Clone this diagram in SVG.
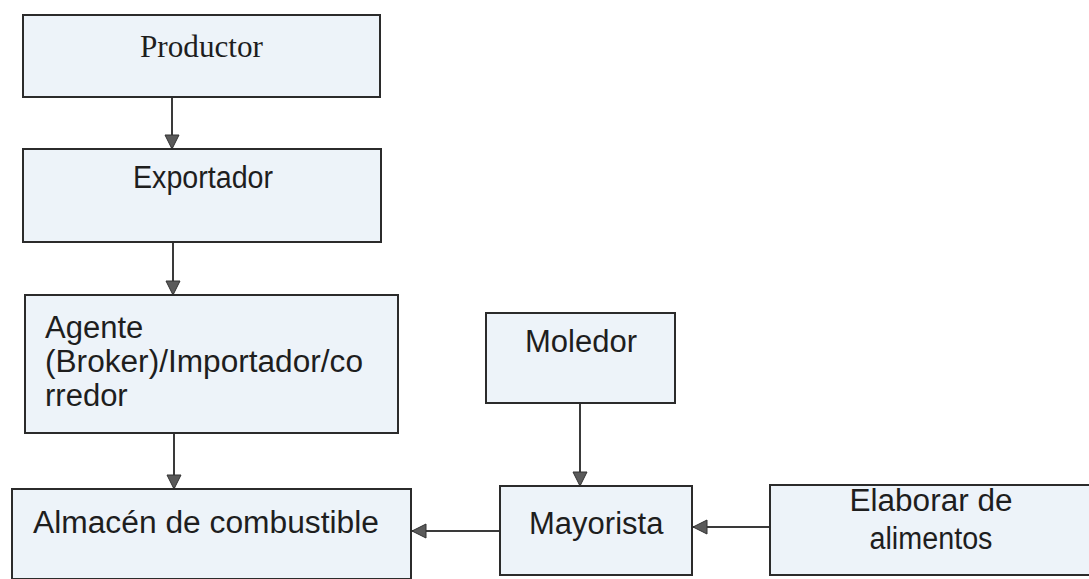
<svg xmlns="http://www.w3.org/2000/svg" width="1089" height="579" viewBox="0 0 1089 579">
  <style>
    .box { fill: #edf3f9; stroke: #2b2b2b; stroke-width: 2; }
    .sans { font-family: "Liberation Sans", Arial, sans-serif; font-size: 31px; fill: #1e1e1e; }
    .serif { font-family: "Liberation Serif", "Times New Roman", serif; font-size: 31px; fill: #1e1e1e; }
    .link { fill: none; stroke: #3a3a3a; stroke-width: 2; }
  </style>
  <defs>
    <marker id="arrow" markerUnits="userSpaceOnUse" markerWidth="18" markerHeight="18" refX="15" refY="8" orient="auto">
      <path d="M1,1 L15,8 L1,15 Z" fill="#5a5a5a" stroke="#333" stroke-width="1"/>
    </marker>
  </defs>
  <rect width="1089" height="579" fill="#ffffff"/>

  <g id="connectors">
    <line class="link" x1="172" y1="97" x2="172" y2="149" marker-end="url(#arrow)"/>
    <line class="link" x1="173" y1="242" x2="173" y2="295" marker-end="url(#arrow)"/>
    <line class="link" x1="174" y1="433" x2="174" y2="489" marker-end="url(#arrow)"/>
    <line class="link" x1="580" y1="403" x2="580" y2="486" marker-end="url(#arrow)"/>
    <line class="link" x1="770" y1="527" x2="693" y2="527" marker-end="url(#arrow)"/>
    <line class="link" x1="500" y1="531" x2="412" y2="531" marker-end="url(#arrow)"/>
  </g>

  <g id="productor">
    <rect class="box" x="23" y="15" width="357" height="82"/>
    <text class="serif" x="201.5" y="57" text-anchor="middle" textLength="123" lengthAdjust="spacingAndGlyphs">Productor</text>
  </g>

  <g id="exportador">
    <rect class="box" x="23" y="149" width="358" height="93"/>
    <text class="sans" x="203" y="188" text-anchor="middle" font-size="28" textLength="140" lengthAdjust="spacingAndGlyphs">Exportador</text>
  </g>

  <g id="agente">
    <rect class="box" x="25" y="295" width="373" height="138"/>
    <text class="sans" x="45" y="338">Agente</text>
    <text class="sans" x="45" y="372" textLength="318" lengthAdjust="spacingAndGlyphs">(Broker)/Importador/co</text>
    <text class="sans" x="45" y="406">rredor</text>
  </g>

  <g id="almacen">
    <rect class="box" x="12" y="489" width="399" height="90"/>
    <text class="sans" x="33" y="533" textLength="346" lengthAdjust="spacingAndGlyphs">Almacén de combustible</text>
  </g>

  <g id="moledor">
    <rect class="box" x="486" y="313" width="189" height="90"/>
    <text class="sans" x="525" y="352">Moledor</text>
  </g>

  <g id="mayorista">
    <rect class="box" x="500" y="486" width="192" height="89"/>
    <text class="sans" x="529" y="534">Mayorista</text>
  </g>

  <g id="elaborar">
    <rect class="box" x="770" y="485" width="330" height="90"/>
    <text class="sans" x="931" y="511" text-anchor="middle" font-size="30" textLength="163" lengthAdjust="spacingAndGlyphs">Elaborar de</text>
    <text class="sans" x="931" y="549" text-anchor="middle" font-size="30" textLength="123" lengthAdjust="spacingAndGlyphs">alimentos</text>
  </g>
</svg>
